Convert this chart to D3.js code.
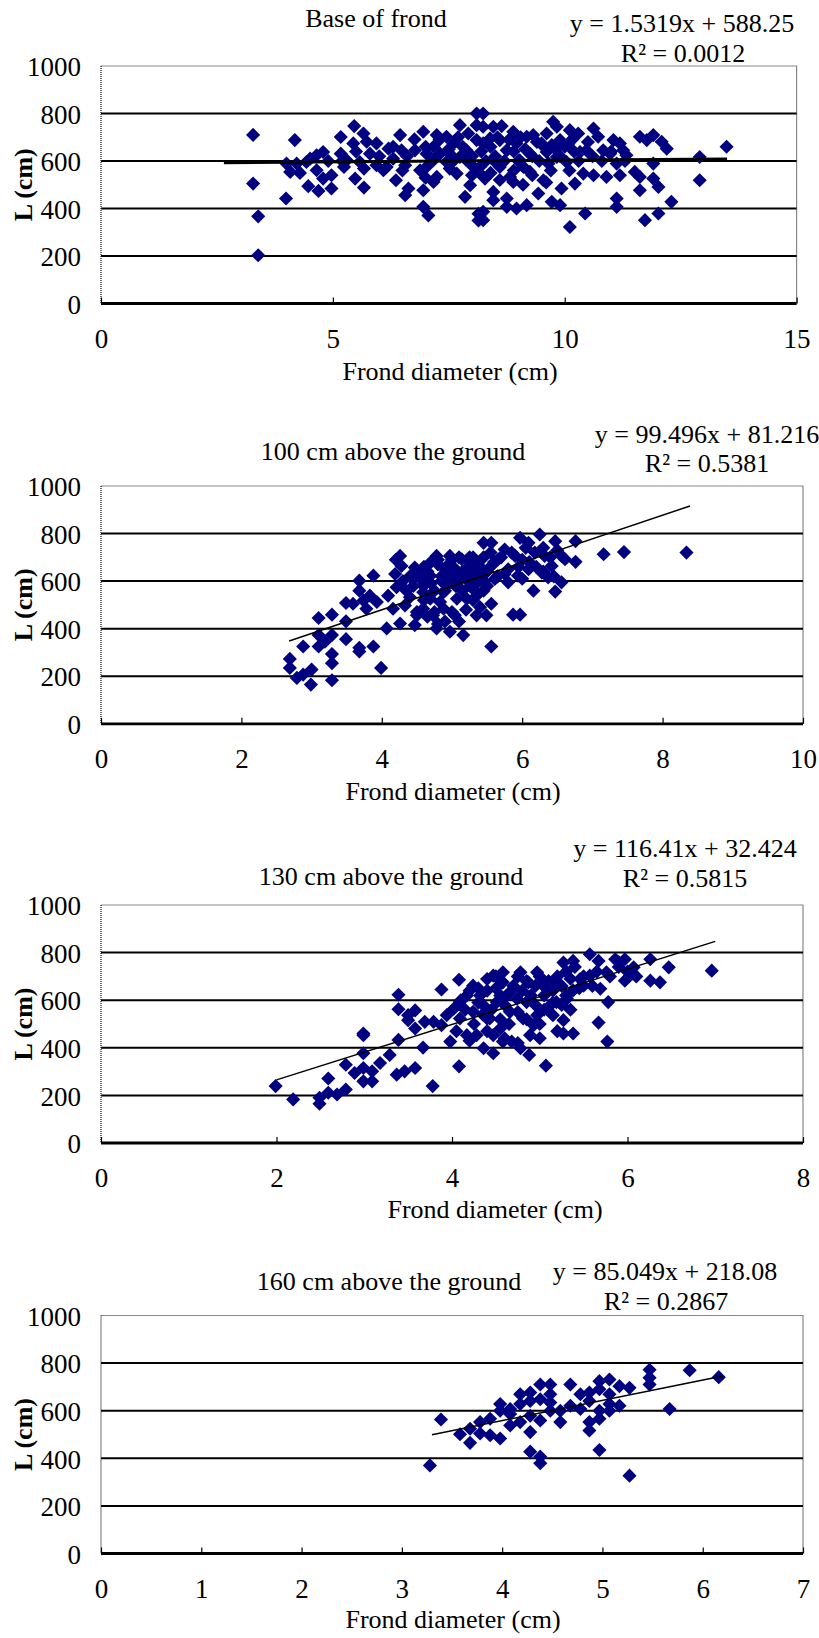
<!DOCTYPE html>
<html lang="en">
<head>
<meta charset="UTF-8" />
<title>Frond diameter vs L</title>
<script src="https://cdn.jsdelivr.net/npm/d3@7"></script>
<style>
  body { margin: 0; background: #fff; }
  text { font-family: "Liberation Serif", "Times New Roman", serif; fill: #000; }
</style>
</head>
<body>
<script>
// ---- data: [frond diameter (cm), L (cm)] ----
const basePts = [
  [3.28,710],[3.28,505],[3.39,367],[3.39,203],[4.18,688],[3.99,442],[4.0,589],[4.08,554],[4.29,550],[4.47,494],
  [4.69,474],[4.51,610],[4.65,624],[4.79,638],[4.65,561],[4.79,526],[4.97,484],[4.97,540],[5.17,701],[5.17,631],
  [5.24,575],[5.46,747],[5.44,674],[5.66,716],[5.73,681],[5.48,526],[5.67,488],[5.67,568],[5.94,674],[5.94,582],
  [6.09,561],[6.20,652],[6.30,660],[6.45,709],[6.48,645],[6.36,519],[6.56,582],[6.63,484],[6.56,456],[6.76,691],
  [6.95,723],[7.02,631],[6.88,561],[7.17,603],[7.24,709],[7.45,702],[7.31,631],[6.95,477],[6.95,407],[7.06,371],
  [7.17,512],[7.24,533],[7.74,751],[7.60,674],[7.52,568],[7.67,547],[7.92,716],[7.88,645],[7.96,498],[7.85,449],
  [7.88,603],[8.10,800],[8.10,751],[8.10,688],[8.14,554],[8.14,378],[8.14,350],[6.77,645],[7.02,575],[7.52,631],
  [7.74,617],[8.03,575],[7.45,596],[7.17,660],[6.16,575],[5.80,631],[5.30,603],[4.43,596],[4.22,589],[5.58,596],
  [6.30,610],[8.24,800],[8.24,744],[8.46,744],[8.64,747],[8.24,674],[8.39,695],[8.60,688],[8.89,723],[8.75,645],
  [8.96,674],[9.18,702],[9.32,709],[9.61,716],[9.75,765],[9.83,744],[9.50,674],[9.72,667],[9.90,688],[10.11,730],
  [10.29,716],[10.08,674],[10.15,688],[10.62,737],[10.72,702],[10.47,645],[10.33,638],[10.83,645],[10.98,631],[11.05,688],
  [11.19,674],[11.26,645],[11.33,624],[11.12,589],[11.62,702],[11.77,688],[11.91,709],[12.09,681],[12.20,652],[11.91,589],
  [12.91,617],[13.49,660],[12.91,519],[8.17,575],[8.28,526],[8.46,470],[8.46,435],[8.75,442],[8.75,407],[8.96,400],
  [9.18,414],[8.24,386],[8.24,351],[8.60,575],[8.82,533],[8.89,512],[9.11,575],[9.25,554],[9.43,463],[9.54,519],
  [9.72,428],[9.90,414],[9.93,484],[10.11,322],[10.22,505],[10.40,547],[10.44,379],[10.62,540],[10.90,533],[11.12,442],
  [11.12,407],[11.19,540],[11.51,554],[11.62,477],[11.62,533],[11.91,526],[12.02,491],[11.73,351],[12.02,379],[12.30,428],
  [9.61,638],[9.83,617],[10.04,596],[9.25,631],[8.46,603],[9.03,603],
  [7.0,660],[7.3,690],[7.5,650],[7.7,700],[7.8,660],[8.0,620],[8.2,640],[8.3,600],[8.4,660],[8.5,620],
  [8.55,700],[8.7,600],[8.8,690],[8.9,640],[9.0,600],[9.05,700],[9.15,650],[9.3,620],[9.4,680],[9.45,600],
  [9.55,660],[9.65,590],[9.8,650],[9.9,620],[10.0,660],[10.2,640],[10.3,600],[10.5,680],[10.6,620],[10.8,600],
  [11.0,640],[11.3,600],[8.4,550],[8.9,560],[9.3,540],[9.7,560],[10.1,560],[8.6,520],[9.1,500],[9.6,510],
  [8.0,540],[7.6,600],[6.6,620],[6.0,620],[5.5,640],[5.2,600],[4.9,600],[6.5,560],[7.0,530]
];
const h100Pts = [
  [2.69,273],[2.69,235],[2.79,193],[2.88,207],[2.99,165],[3.0,228],[2.88,325],[3.10,445],[3.10,373],[3.10,325],
  [3.19,345],[3.29,459],[3.29,373],[3.29,293],[3.29,255],[3.29,183],[3.49,431],[3.49,356],[3.49,508],[3.59,505],
  [3.68,602],[3.68,560],[3.68,320],[3.68,304],[3.88,623],[3.88,325],[3.74,519],[3.78,484],[3.83,539],[3.93,512],
  [3.99,235],[4.07,401],[4.09,539],[4.16,484],[4.19,630],[4.26,706],[4.28,664],[4.21,574],[4.26,422],[4.33,498],
  [4.40,532],[4.47,657],[4.47,415],[4.50,456],[4.59,484],[4.59,553],[4.69,623],[4.73,456],[4.78,706],[4.78,401],
  [4.88,484],[4.90,650],[4.97,387],[4.97,595],[5.04,456],[5.07,526],[5.16,373],[5.14,692],[5.26,678],[5.30,567],
  [5.35,456],[5.40,623],[5.45,761],[4.64,595],[4.54,636],[4.88,553],[5.07,609],[5.21,526],[4.97,706],[5.26,581],
  [5.35,539],[4.69,526],[4.83,512],[4.59,581],[5.56,505],[5.49,456],[5.56,325],[5.87,459],[5.97,459],[6.16,560],
  [6.47,556],[6.56,595],[6.76,681],[6.76,768],[7.16,713],[7.45,722],[8.34,720],[5.97,782],[6.25,796],[6.47,768],
  [6.09,761],[5.75,733],[5.56,761],[5.66,692],[5.90,706],[6.18,720],[6.32,706],[6.56,706],[6.42,664],[6.28,636],
  [6.09,650],[5.94,623],[5.75,630],[5.56,664],[5.61,609],[5.80,595],[6.37,616],[6.61,692],[4.80,670],[5.00,640],
  [5.10,600],[5.20,650],[4.70,590],[4.90,560],[5.30,700],[5.45,600],
  [4.6,660],[4.7,680],[4.8,690],[4.85,620],[4.95,670],[5.0,690],[5.05,650],[5.1,700],[5.15,640],[5.2,610],
  [5.25,700],[5.3,640],[5.35,680],[5.4,660],[5.45,700],[5.5,640],[5.55,720],[4.65,640],[4.75,560],[4.85,600],
  [4.95,630],[5.05,580],[5.15,560],[5.25,620],[5.35,590],[5.45,560],[4.55,610],[4.45,580],[4.35,560],[4.6,520],
  [4.75,470],[4.9,430],[5.0,470],[5.1,430],[5.2,480],[5.3,520],[5.4,490],[4.5,470],[4.65,450],[4.8,420],
  [5.6,680],[5.7,700],[5.8,650],[5.85,720],[6.0,690],[6.05,740],[6.1,680],[6.2,660],[6.3,740],[6.4,700],
  [6.5,730],[6.3,640],[6.45,620],[6.0,610],[5.95,660],[5.65,620],[5.5,580],[4.3,600],[4.2,690],[4.4,620]
];
const h130Pts = [
  [1.99,239],[2.19,183],[2.49,165],[2.49,190],[2.59,211],[2.59,271],[2.69,204],[2.79,225],[2.79,329],[2.89,294],
  [2.99,453],[2.99,460],[2.99,377],[2.99,315],[2.99,259],[3.09,259],[3.09,301],[3.18,336],[3.29,370],[3.37,287],
  [3.39,623],[3.39,562],[3.39,433],[3.46,301],[3.50,516],[3.50,537],[3.58,557],[3.58,315],[3.58,481],[3.67,401],
  [3.69,509],[3.78,239],[3.79,509],[3.88,645],[3.88,495],[3.94,537],[3.98,426],[4.08,322],[4.08,686],[4.09,592],
  [4.17,620],[4.24,661],[4.28,453],[4.17,453],[4.32,620],[4.36,578],[4.40,689],[4.36,398],[4.09,523],[4.24,551],
  [4.02,564],[4.40,523],[4.47,377],[4.47,703],[4.58,675],[4.58,426],[4.68,426],[4.78,398],[4.88,370],[5.07,325],
  [4.58,717],[4.78,717],[4.97,717],[4.87,675],[5.04,661],[5.19,675],[5.27,758],[5.38,765],[5.57,793],[5.67,765],
  [5.86,772],[5.97,772],[6.07,738],[5.97,682],[6.26,772],[6.47,738],[6.26,682],[6.37,675],[6.96,724],[5.76,717],
  [5.57,703],[5.69,648],[5.78,592],[5.50,661],[5.38,641],[5.31,606],[5.19,592],[5.08,564],[4.97,537],[4.85,592],
  [4.74,606],[4.66,634],[4.51,592],[4.43,523],[4.55,481],[4.89,453],[5.00,440],[5.27,516],[5.27,460],[5.38,460],
  [5.67,506],[5.77,426],[4.47,453],[4.66,551],[4.81,523],[4.93,495],[5.15,537],[5.46,689],[5.90,740],[6.05,710],
  [4.1,600],[4.2,640],[4.3,590],[4.4,640],[4.5,700],[4.55,620],[4.6,580],[4.7,660],[4.75,700],[4.8,640],
  [4.85,680],[4.9,620],[4.95,660],[5.0,700],[5.05,620],[5.1,680],[5.15,640],[5.2,700],[5.25,660],[5.3,620],
  [5.35,690],[5.4,740],[5.45,650],[5.5,700],[5.6,660],[5.65,720],[4.15,560],[4.25,500],[4.35,540],[4.45,560],
  [4.55,520],[4.65,500],[4.75,550],[4.85,520],[4.95,580],[5.05,560],[5.15,590],[5.25,580],[5.35,560],[4.05,470],
  [4.2,430],[4.4,470],[4.6,440],[4.75,420],[5.0,500],[5.2,470],[5.3,720],[5.8,700],[5.9,760],[6.0,720],
  [6.1,700],[5.1,640],[4.6,610],[4.3,650],[4.5,650]
];
const h160Pts = [
  [3.28,370],[3.39,563],[3.58,501],[3.68,465],[3.68,524],[3.78,552],[3.78,504],[3.88,566],[3.88,497],[3.98,483],
  [3.98,628],[3.98,600],[4.08,586],[4.08,538],[4.18,669],[4.18,552],[4.18,628],[4.28,428],[4.28,510],[4.28,579],
  [4.28,676],[4.28,641],[4.38,710],[4.38,648],[4.38,559],[4.38,407],[4.38,379],[4.48,710],[4.48,669],[4.48,600],
  [4.58,552],[4.58,600],[4.68,710],[4.68,621],[4.78,607],[4.87,552],[4.87,517],[4.87,676],[4.87,641],[4.97,724],
  [4.97,690],[4.97,600],[4.97,566],[4.97,435],[5.07,731],[5.07,669],[5.07,628],[5.17,703],[5.17,621],[5.27,696],
  [5.27,327],[5.47,772],[5.47,738],[5.47,710],[5.67,607],[5.87,770],[6.16,741],[4.08,607],[4.48,634],[4.78,669],
  [5.07,600]
];

// trend lines: [slope, intercept, xStart, xEnd]
const baseFit = [1.5319, 588.25, 2.65, 13.5];
const h100Fit = [99.496, 81.216, 2.68, 8.39];
const h130Fit = [116.41, 32.424, 2.0, 7.0];
const h160Fit = [85.049, 218.08, 3.3, 6.2];

const titles = ["Base of frond", "100 cm above the ground", "130 cm above the ground", "160 cm above the ground"];
const equations = ["y = 1.5319x + 588.25", "y = 99.496x + 81.216", "y = 116.41x + 32.424", "y = 85.049x + 218.08"];
const rSquared = ["R\u00b2 = 0.0012", "R\u00b2 = 0.5381", "R\u00b2 = 0.5815", "R\u00b2 = 0.2867"];
const xMaxes = [15, 10, 8, 7];
const xSteps = [5, 2, 2, 1];
const yTicks = [0, 200, 400, 600, 800, 1000];

// layout of each panel (pixels)
const layout = [
  { l: 101, r: 796.6, t: 66,     b: 303.5,  title: [376, 27],   eq: [682, 32],   r2: [683, 62],   xt: [450, 380], fitW: 3 },
  { l: 101, r: 803,   t: 486,    b: 723.8,  title: [393, 460],  eq: [707, 443],  r2: [707, 472],  xt: [453, 800], fitW: 1.5 },
  { l: 101, r: 803,   t: 905,    b: 1143,   title: [391, 885],  eq: [685, 857],  r2: [685, 887],  xt: [495, 1218], fitW: 1.5 },
  { l: 101, r: 803,   t: 1315.5, b: 1553.5, title: [389, 1290], eq: [665, 1280], r2: [666, 1310], xt: [453, 1628], fitW: 1.5 }
];
const allPts = [basePts, h100Pts, h130Pts, h160Pts];
const allFits = [baseFit, h100Fit, h130Fit, h160Fit];

const W = 819, H = 1638;
const fs = 26, tickFs = 27;
const svg = d3.select("body").append("svg")
  .attr("width", W).attr("height", H)
  .style("display", "block");
svg.append("rect").attr("width", W).attr("height", H).attr("fill", "#fff");

const diamond = d3.symbol().type(d3.symbolSquare).size(100);

layout.forEach((p, i) => {
  const x = d3.scaleLinear().domain([0, xMaxes[i]]).range([p.l, p.r]);
  const y = d3.scaleLinear().domain([0, 1000]).range([p.b, p.t]);
  const g = svg.append("g");

  // plot area border (top / right)
  g.append("path")
    .attr("d", `M${p.l},${y(1000)}H${p.r}V${p.b}`)
    .attr("fill", "none").attr("stroke", "#888").attr("stroke-width", 1.2);

  // gridlines
  g.selectAll(".grid").data(yTicks.filter(v => v > 0 && v < 1000)).enter()
    .append("line")
    .attr("x1", p.l).attr("x2", p.r)
    .attr("y1", d => y(d)).attr("y2", d => y(d))
    .attr("stroke", "#000").attr("stroke-width", 2);

  // dotted y axis line
  g.append("line")
    .attr("x1", p.l).attr("x2", p.l).attr("y1", y(1000)).attr("y2", p.b)
    .attr("stroke", "#222").attr("stroke-width", 1.3).attr("stroke-dasharray", "1,1");

  // y axis labels
  const ya = g.append("g").attr("transform", `translate(${p.l},0)`)
    .call(d3.axisLeft(y).tickValues(yTicks).tickSize(0).tickPadding(20).tickFormat(d3.format("d")));
  ya.select(".domain").remove();
  ya.selectAll("text").attr("font-size", tickFs).attr("font-family", "Liberation Serif").attr("dy", "0.36em");

  // x axis with inside ticks
  const xs = d3.range(0, xMaxes[i] + 0.001, xSteps[i]);
  const xa = g.append("g").attr("transform", `translate(0,${p.b})`)
    .call(d3.axisBottom(x).tickValues(xs).tickSize(-6).tickPadding(25).tickFormat(d3.format("d")));
  xa.select(".domain").remove();
  xa.selectAll("line").attr("stroke", "#000").attr("stroke-width", 1.2);
  xa.selectAll("text").attr("font-size", tickFs).attr("font-family", "Liberation Serif");
  g.append("line")
    .attr("x1", p.l).attr("x2", p.r).attr("y1", p.b).attr("y2", p.b)
    .attr("stroke", "#000").attr("stroke-width", 2.8);

  // points
  g.selectAll(".pt").data(allPts[i]).enter()
    .append("path")
    .attr("d", diamond)
    .attr("transform", d => `translate(${x(d[0])},${y(d[1])}) rotate(45)`)
    .attr("fill", "#000080");

  // trend line
  const f = allFits[i];
  g.append("line")
    .attr("x1", x(f[2])).attr("y1", y(f[0] * f[2] + f[1]))
    .attr("x2", x(f[3])).attr("y2", y(f[0] * f[3] + f[1]))
    .attr("stroke", "#000").attr("stroke-width", p.fitW);

  // texts
  g.append("text").attr("x", p.title[0]).attr("y", p.title[1])
    .attr("text-anchor", "middle").attr("font-size", fs).text(titles[i]);
  g.append("text").attr("x", p.eq[0]).attr("y", p.eq[1])
    .attr("text-anchor", "middle").attr("font-size", fs).text(equations[i]);
  g.append("text").attr("x", p.r2[0]).attr("y", p.r2[1])
    .attr("text-anchor", "middle").attr("font-size", fs).text(rSquared[i]);
  g.append("text").attr("x", p.xt[0]).attr("y", p.xt[1])
    .attr("text-anchor", "middle").attr("font-size", fs).text("Frond diameter (cm)");
  g.append("text")
    .attr("transform", `translate(32,${(p.t + p.b) / 2}) rotate(-90)`)
    .attr("text-anchor", "middle").attr("font-size", fs).attr("font-weight", "bold")
    .text("L (cm)");
});
</script>
</body>
</html>
